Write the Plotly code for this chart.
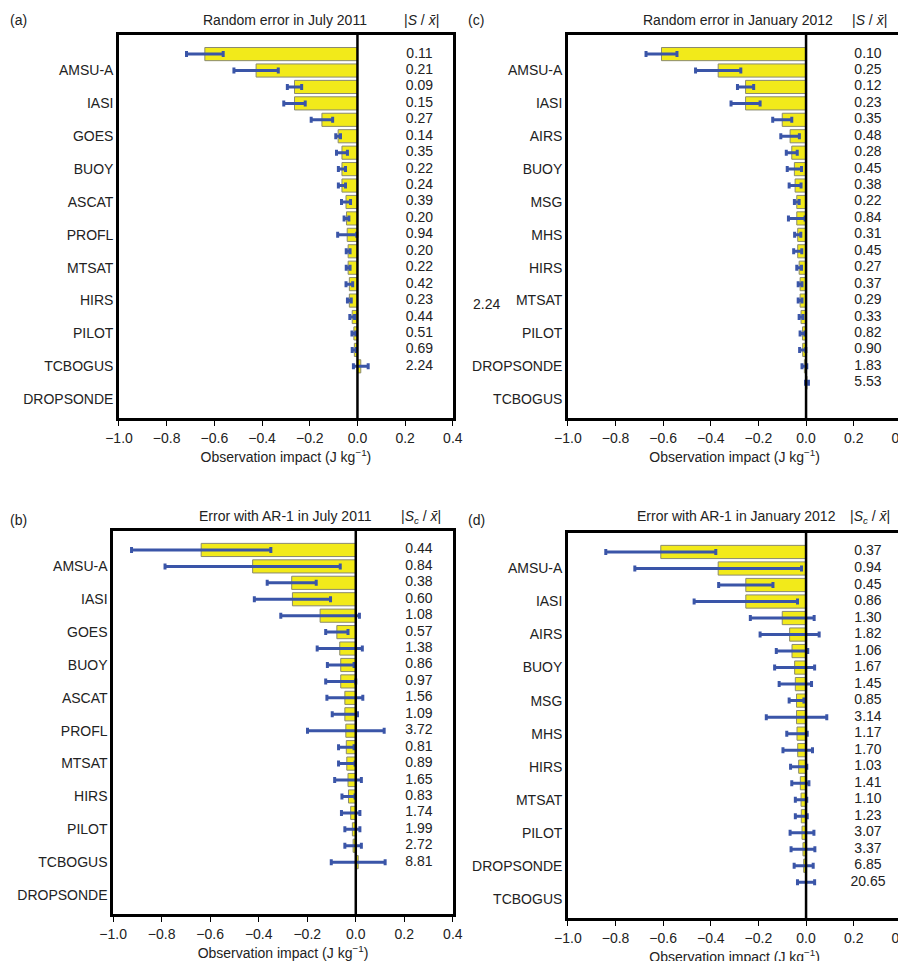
# Observation impact panels using Plotly
# Four panels: random error and AR-1 error for July 2011 and January 2012

import plotly.graph_objects as go
from plotly.subplots import make_subplots

# Panel (a): Random error in July 2011
names_a = ['SOUND', 'AMSU-A', 'AIRCRAFT', 'IASI', 'SYNOP', 'GOES', 'GPSRO', 'BUOY', 'AIRS', 'ASCAT',
           'MSG', 'PROFL', 'MFG', 'MTSAT', 'MHS', 'HIRS', 'SSMI/S', 'PILOT', 'SHIP', 'TCBOGUS',
           'KMA COMS', 'DROPSONDE']
impact_a = [-0.64, -0.425, -0.264, -0.264, -0.149, -0.081, -0.065, -0.065, -0.065, -0.048,
            -0.046, -0.043, -0.039, -0.039, -0.034, -0.034, -0.022, -0.015, -0.013, 0.014, None, None]
err_a = [0.077, 0.093, 0.03, 0.045, 0.045, 0.01, 0.023, 0.015, 0.015, 0.019,
         0.01, 0.04, 0.008, 0.008, 0.014, 0.008, 0.01, 0.008, 0.009, 0.031, None, None]
ratio_a = ['0.11', '0.21', '0.09', '0.15', '0.27', '0.14', '0.35', '0.22', '0.24', '0.39',
           '0.20', '0.94', '0.20', '0.22', '0.42', '0.23', '0.44', '0.51', '0.69', '2.24', '', '']

# Panel (b): Error with AR-1 in July 2011 (same order as (a))
impact_b = [-0.637, -0.425, -0.264, -0.261, -0.147, -0.078, -0.066, -0.062, -0.062, -0.045,
            -0.045, -0.041, -0.039, -0.037, -0.032, -0.03, -0.021, -0.014, -0.011, 0.01, None, None]
err_b = [0.287, 0.361, 0.101, 0.157, 0.162, 0.046, 0.093, 0.055, 0.062, 0.074,
         0.052, 0.158, 0.032, 0.034, 0.055, 0.027, 0.038, 0.031, 0.034, 0.111, None, None]
ratio_b = ['0.44', '0.84', '0.38', '0.60', '1.08', '0.57', '1.38', '0.86', '0.97', '1.56',
           '1.09', '3.72', '0.81', '0.89', '1.65', '0.83', '1.74', '1.99', '2.72', '8.81', '', '']

# Panel (c): Random error in January 2012
names_c = ['SOUND', 'AMSU-A', 'AIRCRAFT', 'IASI', 'SYNOP', 'AIRS', 'GOES', 'BUOY', 'ASCAT', 'MSG',
           'PROFL', 'MHS', 'GPSRO', 'HIRS', 'KMA COMS', 'MTSAT', 'MFG', 'PILOT', 'SHIP', 'DROPSONDE',
           'SSMI/S', 'TCBOGUS']
impact_c = [-0.607, -0.369, -0.254, -0.254, -0.1, -0.067, -0.06, -0.049, -0.046, -0.039,
            -0.039, -0.035, -0.035, -0.029, -0.025, -0.025, -0.021, -0.015, -0.014, -0.007, 0.004, None]
err_c = [0.065, 0.095, 0.034, 0.061, 0.04, 0.039, 0.023, 0.03, 0.025, 0.01,
         0.035, 0.013, 0.017, 0.01, 0.008, 0.008, 0.008, 0.01, 0.013, 0.01, 0.006, None]
ratio_c = ['0.10', '0.25', '0.12', '0.23', '0.35', '0.48', '0.28', '0.45', '0.38', '0.22',
           '0.84', '0.31', '0.45', '0.27', '0.37', '0.29', '0.33', '0.82', '0.90', '1.83', '5.53', '']

# Panel (d): Error with AR-1 in January 2012 (same order as (c))
impact_d = [-0.61, -0.369, -0.253, -0.253, -0.1, -0.069, -0.059, -0.048, -0.045, -0.04,
            -0.04, -0.038, -0.035, -0.031, -0.024, -0.021, -0.02, -0.017, -0.013, -0.01, 0.0, None]
err_d = [0.231, 0.35, 0.114, 0.217, 0.134, 0.124, 0.066, 0.084, 0.068, 0.031,
         0.127, 0.043, 0.062, 0.034, 0.036, 0.024, 0.025, 0.05, 0.05, 0.04, 0.036, None]
ratio_d = ['0.37', '0.94', '0.45', '0.86', '1.30', '1.82', '1.06', '1.67', '1.45', '0.85',
           '3.14', '1.17', '1.70', '1.03', '1.41', '1.10', '1.23', '3.07', '3.37', '6.85', '20.65', '']

x_ticks = [-1.0, -0.8, -0.6, -0.4, -0.2, 0.0, 0.2, 0.4]
x_tick_text = ['\u22121.0', '\u22120.8', '\u22120.6', '\u22120.4', '\u22120.2', '0.0', '0.2', '0.4']

FONT = 'Liberation Sans, Arial, sans-serif'
BAR_COLOR = '#f2ea1a'
ERR_COLOR = '#3a55a8'
SIZE = 14

fig = make_subplots(rows=2, cols=2)

panels = [
    (1, 1, names_a, impact_a, err_a, ratio_a),
    (1, 2, names_c, impact_c, err_c, ratio_c),
    (2, 1, names_a, impact_b, err_b, ratio_b),
    (2, 2, names_c, impact_d, err_d, ratio_d),
]

for row, col, names, impact, err, ratio in panels:
    fig.add_trace(
        go.Bar(y=names, x=impact, orientation='h',
               marker=dict(color=BAR_COLOR, line=dict(color='#8a8a70', width=1)),
               error_x=dict(type='data', array=err, color=ERR_COLOR, thickness=3, width=3),
               width=0.8, showlegend=False),
        row=row, col=col
    )
    # ratio column inside the box
    fig.add_trace(
        go.Scatter(y=names, x=[0.26] * len(names), text=ratio, mode='text',
                   textfont=dict(size=SIZE, color='#222'), showlegend=False),
        row=row, col=col
    )
    fig.update_yaxes(categoryorder='array', categoryarray=names, autorange='reversed',
                     row=row, col=col)
    fig.add_vline(x=0, line=dict(color='black', width=2.5), row=row, col=col)

# Panel positions (match the reference)
fig.update_layout(
    xaxis=dict(domain=[0.1225, 0.491]), yaxis=dict(domain=[0.573, 0.972]),
    xaxis2=dict(domain=[0.618, 0.986]), yaxis2=dict(domain=[0.573, 0.972]),
    xaxis3=dict(domain=[0.116, 0.491]), yaxis3=dict(domain=[0.057, 0.456]),
    xaxis4=dict(domain=[0.618, 0.986]), yaxis4=dict(domain=[0.053, 0.454]),
)

fig.update_xaxes(range=[-1.0, 0.4], tickvals=x_ticks, ticktext=x_tick_text, automargin=False,
                 ticks='outside', ticklen=5, tickwidth=1, tickcolor='black',
                 showline=True, linecolor='black', linewidth=2.5, mirror=True,
                 showgrid=False, zeroline=False, tickfont=dict(size=SIZE, color='#222'),
                 title=dict(text='Observation impact (J kg<sup>\u22121</sup>)',
                            font=dict(size=SIZE, color='#222'), standoff=8))
fig.update_yaxes(showline=True, linecolor='black', linewidth=2.5, mirror=True, automargin=False,
                 showgrid=False, zeroline=False, ticks='', tickfont=dict(size=SIZE, color='#222'))

# Panel letters and titles
notes = [
    (0.0, 0.998, '(a)', 'left'), (0.506, 0.998, '(c)', 'left'),
    (0.0, 0.478, '(b)', 'left'), (0.506, 0.478, '(d)', 'left'),
    (0.306, 0.998, 'Random error in July 2011', 'center'),
    (0.456, 0.998, '|<i>S</i> / <i>x\u0304</i>|', 'center'),
    (0.806, 0.998, 'Random error in January 2012', 'center'),
    (0.951, 0.998, '|<i>S</i> / <i>x\u0304</i>|', 'center'),
    (0.306, 0.482, 'Error with AR-1 in July 2011', 'center'),
    (0.456, 0.482, '|<i>S<sub>c</sub></i> / <i>x\u0304</i>|', 'center'),
    (0.804, 0.482, 'Error with AR-1 in January 2012', 'center'),
    (0.951, 0.482, '|<i>S<sub>c</sub></i> / <i>x\u0304</i>|', 'center'),
    (0.528, 0.702, '2.24', 'center'),
]
for x, y, text, align in notes:
    fig.add_annotation(x=x, y=y, xref='paper', yref='paper', text=text, showarrow=False,
                       xanchor=align, yanchor='top', font=dict(size=SIZE, color='#222'))

fig.update_layout(
    width=906, height=961,
    margin=dict(l=0, r=0, t=0, b=0),
    plot_bgcolor='white', paper_bgcolor='white',
    font=dict(family=FONT, color='#222'),
    bargap=0.2
)

# Save as HTML file
fig.write_html('out.html')
